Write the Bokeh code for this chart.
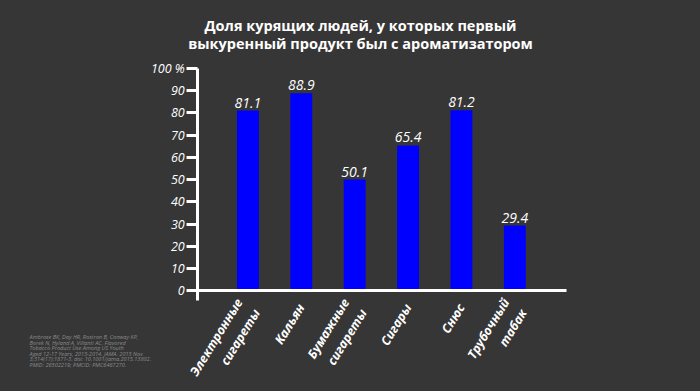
from bokeh.plotting import figure
from bokeh.models import (ColumnDataSource, Range1d, FixedTicker, LabelSet, Label)
from bokeh.core.properties import value
from bokeh.embed import file_html
from bokeh.resources import INLINE

# ---- data ----
categories = ["Электронные\nсигареты", "Кальян", "Бумажные\nсигареты",
              "Сигары", "Снюс", "Трубочный\nтабак"]
values = [81.1, 88.9, 50.1, 65.4, 81.2, 29.4]
value_labels = ["81.1", "88.9", "50.1", "65.4", "81.2", "29.4"]
y_ticks = [0, 10, 20, 30, 40, 50, 60, 70, 80, 90, 100]
y_tick_labels = {100: "100 %"}
title_lines = ["Доля курящих людей, у которых первый",
               "выкуренный продукт был с ароматизатором"]
source_lines = [
    "Ambrose BK, Day HR, Rostron B, Conway KP,",
    "Borek N, Hyland A, Villanti AC. Flavored",
    "Tobacco Product Use Among US Youth",
    "Aged 12-17 Years, 2013-2014. JAMA. 2015 Nov",
    "3;314(17):1871-3. doi: 10.1001/jama.2015.13802.",
    "PMID: 26502219; PMCID: PMC6467270.",
]

BG = "#363636"
BAR = "#0000ff"
FONT = "Open Sans"

xpos = list(range(len(categories)))
src = ColumnDataSource(dict(x=xpos, val=values, lab=value_labels))

# frame covers the whole canvas; axes are pinned with fixed_location
X0, X1 = -4.635, 8.478
Y0, Y1 = -45.17, 130.56
AX_X = -0.94       # where the value axis stands on the category scale
AX_X_END = 5.97    # right end of the category axis
Y_LOW = -4.3       # lower end of the value axis line

p = figure(width=700, height=391, x_range=Range1d(X0, X1), y_range=Range1d(Y0, Y1),
           output_backend="svg", toolbar_location=None,
           min_border_left=0, min_border_right=0,
           min_border_top=0, min_border_bottom=0)
p.background_fill_color = BG
p.border_fill_color = BG
p.outline_line_color = None
p.xgrid.grid_line_color = None
p.ygrid.grid_line_color = None

p.vbar(x="x", top="val", width=0.41, source=src, fill_color=BAR, line_color=None)

p.add_layout(LabelSet(x="x", y="val", text="lab", source=src,
                      text_align="center", text_baseline="bottom", y_offset=3,
                      text_color="white", text_font=value(FONT),
                      text_font_style="italic", text_font_size="14px"))

# y axis
ya = p.yaxis[0]
ya.fixed_location = AX_X
ya.bounds = (Y_LOW, y_ticks[-1])
ya.ticker = FixedTicker(ticks=y_ticks)
ya.major_label_overrides = y_tick_labels
ya.axis_line_color = "white"
ya.axis_line_width = 3
ya.major_tick_line_color = "white"
ya.major_tick_line_width = 3
ya.major_tick_out = 11
ya.major_tick_in = 0
ya.minor_tick_line_color = None
ya.major_label_text_color = "white"
ya.major_label_text_font = FONT
ya.major_label_text_font_style = "italic"
ya.major_label_text_font_size = "12.5px"
ya.major_label_standoff = 2

# x axis
xa = p.xaxis[0]
xa.fixed_location = 0
xa.bounds = (AX_X, AX_X_END)
xa.ticker = FixedTicker(ticks=xpos)
xa.major_label_overrides = {i: c for i, c in zip(xpos, categories)}
xa.axis_line_color = "white"
xa.axis_line_width = 3
xa.major_tick_line_color = None
xa.minor_tick_line_color = None
xa.major_label_orientation = 1.02
xa.major_label_text_color = "white"
xa.major_label_text_font = FONT
xa.major_label_text_font_style = "bold italic"
xa.major_label_text_font_size = "12.5px"
xa.major_label_standoff = 8

# title (screen units, measured from the bottom of the canvas)
for i, t in enumerate(title_lines):
    p.add_layout(Label(x=360, y=366 - i * 18, x_units="screen", y_units="screen",
                       text=t, text_align="center", text_baseline="middle",
                       text_color="white", text_font=FONT, text_font_style="bold",
                       text_font_size="14.5px"))

# source note
for i, t in enumerate(source_lines):
    p.add_layout(Label(x=29, y=54.5 - i * 5.5, x_units="screen", y_units="screen",
                       text=t, text_align="left", text_baseline="middle",
                       text_color="#8a8a8a", text_font=FONT,
                       text_font_style="italic", text_font_size="5.6px"))

html = file_html(p, INLINE)
html = html.replace("<head>", "<head><style>html,body{background:%s;}</style>" % BG, 1)
open("out.html", "w").write(html)
